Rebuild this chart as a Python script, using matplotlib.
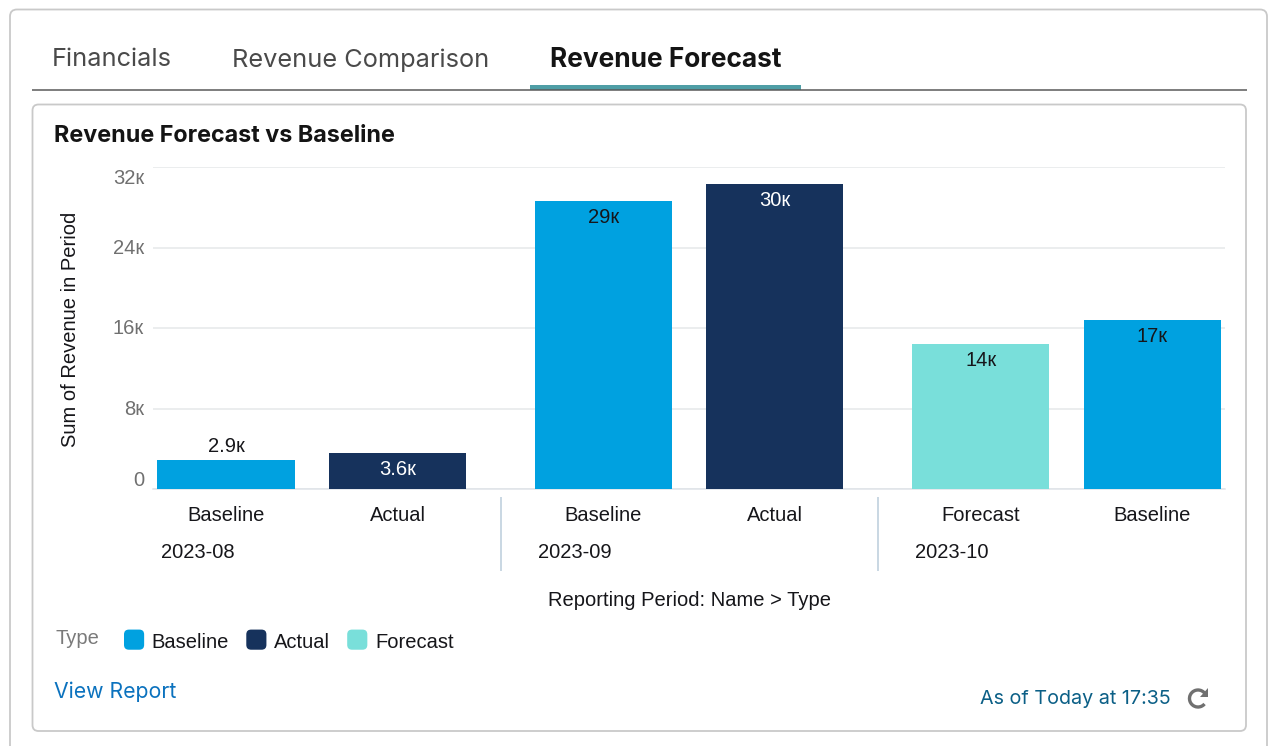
import matplotlib
matplotlib.use("Agg")
import matplotlib.pyplot as plt
from matplotlib.patches import FancyBboxPatch, Rectangle, Polygon, Arc
from matplotlib.legend_handler import HandlerPatch
from matplotlib.transforms import ScaledTranslation, blended_transform_factory

# ---- data ----
periods = ["2023-08", "2023-09", "2023-10"]
period_types = [["Baseline", "Actual"], ["Baseline", "Actual"], ["Forecast", "Baseline"]]
period_values = [[2880, 3580], [28600, 30300], [14400, 16800]]
period_labels = [["2.9к", "3.6к"], ["29к", "30к"], ["14к", "17к"]]
type_names = ["Baseline", "Actual", "Forecast"]
type_colors = ["#00A1E0", "#16325C", "#79DFDA"]
label_colors = {"Baseline": "#16161a", "Actual": "#ffffff", "Forecast": "#16161a"}
y_ticks = [0, 8000, 16000, 24000, 32000]
y_tick_labels = ["0", "8к", "16к", "24к", "32к"]
tabs = ["Financials", "Revenue Comparison", "Revenue Forecast"]

W, H = 1280, 746
SANS = "Liberation Sans"
UI = "Inter"
FS = 14.5
fig = plt.figure(figsize=(W / 100, H / 100), dpi=100, facecolor="white")

# ---- page chrome, in pixel coordinates ----
bg = fig.add_axes([0, 0, 1, 1], zorder=0)
bg.set_xlim(0, W)
bg.set_ylim(H, 0)
bg.axis("off")
bg.add_patch(FancyBboxPatch((10, 9.5), 1257, 800, boxstyle="round,pad=0,rounding_size=7",
                            fc="white", ec="#c9c9c9", lw=1.3))
bg.add_patch(FancyBboxPatch((32.5, 104.5), 1213.5, 626.5, boxstyle="round,pad=0,rounding_size=6",
                            fc="white", ec="#c9c9c9", lw=1.3))
bg.plot([32, 1247], [89.7, 89.7], color="#5a5a5a", lw=1.1, solid_capstyle="butt")
bg.add_patch(Rectangle((530, 85), 271, 4.5, fc="#4F9EA6", ec="none"))
for name, x, weight, col, fs in zip(tabs, [52, 232.5, 550.5], ["normal", "normal", "bold"],
                                    ["#4a4a4a", "#4a4a4a", "#141414"], [18.25, 18.25, 18.9]):
    bg.text(x, 60, name, family=UI, fontsize=fs, weight=weight, color=col, ha="left", va="center")
bg.text(54, 136, "Revenue Forecast vs Baseline", family=UI, fontsize=16.8, weight="bold",
        color="#141414", ha="left", va="center")
bg.text(54, 692, "View Report", family=UI, fontsize=15.3, color="#0B72BE", ha="left", va="center")
bg.text(1171, 699, "As of Today at 17:35", family=UI, fontsize=14.2, color="#0B5F86",
        ha="right", va="center")
# refresh icon
bg.add_patch(Arc((1198, 698.5), 17, 17, theta1=-320, theta2=-25, color="#707070", lw=2.4))
bg.add_patch(Polygon([[1208, 688], [1208, 697], [1199.5, 697]], fc="#707070", ec="none"))
bg.text(56, 638, "Type", family=SANS, fontsize=FS, color="#7a7a7a", ha="left", va="center")

# ---- chart ----
ax = fig.add_axes([153 / W, 1 - 489 / H, (1225 - 153) / W, (489 - 167) / H], zorder=1)
ax.patch.set_alpha(0)
GROUP_STEP = 2.2
BAR_W = 0.8
positions, names = [], []
for g, (tps, vals, labs) in enumerate(zip(period_types, period_values, period_labels)):
    for i, (t, v, lab) in enumerate(zip(tps, vals, labs)):
        x = g * GROUP_STEP + i
        positions.append(x)
        names.append(t)
        ax.bar(x, v, width=BAR_W, color=type_colors[type_names.index(t)], zorder=3)
        outside = v < 3000
        ax.annotate(lab, (x, v), xytext=(0, 13.5 if outside else -16.5), textcoords="offset pixels",
                    ha="center", va="center", family=SANS, fontsize=FS, zorder=4, annotation_clip=False,
                    color="#16161a" if outside else label_colors[t])

ax.set_xlim(-0.4257, 5.825)
ax.set_ylim(0, 32000)
ax.set_xticks(positions)
ax.set_xticklabels(names, family=SANS, fontsize=FS, color="#16161a")
ax.set_yticks(y_ticks)
ax.set_yticklabels(y_tick_labels, family=SANS, fontsize=FS, color="#707070")
ax.tick_params(axis="x", length=0, pad=12.5)
ax.tick_params(axis="y", length=0, pad=6.5)
ax.grid(axis="y", color="#e6e8ea", lw=1.1, zorder=0)
ax.set_axisbelow(True)
for s in ["top", "right", "left"]:
    ax.spines[s].set_visible(False)
ax.spines["bottom"].set_color("#dfe3e8")
ax.spines["bottom"].set_linewidth(1.1)

# the end tick labels sit inside the plot height
ylabs = ax.get_yticklabels()
for i, lab in enumerate(ylabs):
    shift = {0: 11, len(ylabs) - 1: -9}.get(i, 1)
    lab.set_transform(lab.get_transform() + ScaledTranslation(0, shift / 100, fig.dpi_scale_trans))

# period labels and separators
xt = blended_transform_factory(ax.transData, fig.transFigure)
for g, per in enumerate(periods):
    left = g * GROUP_STEP - BAR_W / 2 + 0.02
    ax.text(left, 1 - 552.5 / H, per, transform=xt, family=SANS, fontsize=FS, color="#16161a",
            ha="left", va="center", clip_on=False)
    if g:
        sep = g * GROUP_STEP - (GROUP_STEP - 1) / 2 + 0.004
        ax.plot([sep, sep], [1 - 497 / H, 1 - 571 / H], transform=xt, color="#c9d7e3", lw=1.4,
                clip_on=False, solid_capstyle="butt")

fig.text(690 / W, 1 - 600 / H, "Reporting Period: Name > Type", family=SANS, fontsize=FS,
         color="#16161a", ha="center", va="center")
fig.text(70 / W, 1 - 329 / H, "Sum of Revenue in Period", family=SANS, fontsize=FS,
         color="#16161a", ha="center", va="center", rotation=90)


# ---- legend ----
class RoundHandler(HandlerPatch):
    def create_artists(self, legend, orig, xd, yd, w, h, fs, trans):
        p = FancyBboxPatch((-xd, -yd - 1.6), w, w, boxstyle="round,pad=0,rounding_size=3.5",
                           fc=orig.get_facecolor(), ec="none", transform=trans)
        return [p]


handles = [Rectangle((0, 0), 1, 1, fc=c) for c in type_colors]
leg = fig.legend(handles, type_names, loc="center left", bbox_to_anchor=(124 / W, 1 - 642 / H),
                 ncols=3, frameon=False, borderpad=0, borderaxespad=0, handlelength=1.0, handleheight=0.7,
                 handletextpad=0.38, columnspacing=0.85,
                 prop={"family": SANS, "size": FS}, labelcolor="#16161a",
                 handler_map={Rectangle: RoundHandler()})

fig.savefig("out.png", dpi=100, facecolor="white")
